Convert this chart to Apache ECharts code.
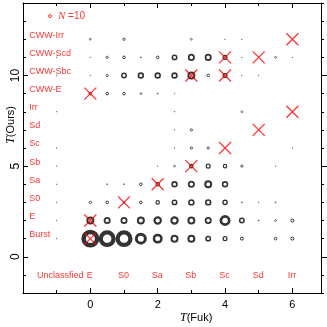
<!DOCTYPE html>
<html><head><meta charset="utf-8">
<script src="https://cdn.jsdelivr.net/npm/echarts@6/dist/echarts.min.js"></script>
<style>html,body{margin:0;padding:0;background:#fff}#c{width:327px;height:327px}</style>
</head><body><div id="c"></div>
<script>
// Fukugita T-type columns (half steps) and our T-type rows
const fukT = [-1, 0, 0.5, 1, 1.5, 2, 2.5, 3, 3.5, 4, 4.5, 5, 5.5, 6];
const oursT = [1, 2, 3, 4, 5, 6, 7, 8, 9, 10, 11, 12];
// estimated galaxy counts per cell, one array per "Ours" row, aligned with fukT
const nBurst   = [1, 202, 180, 180, 90, 62, 40, 40, 22, 16, 10, 0, 8, 10];
const nE       = [1, 40, 31, 31, 40, 45, 45, 40, 31, 75, 22, 2, 4, 10];
const nS0      = [1, 6, 8, 4, 8, 13, 22, 26, 26, 19, 2, 1, 2, 0];
const nSa      = [1, 0, 2, 2, 8, 13, 26, 31, 40, 26, 0, 0, 0, 0];
const nSb      = [1, 0, 0, 0, 0, 1, 4, 13, 16, 13, 6, 0, 1, 0];
const nSc      = [1, 0, 0, 0, 0, 0, 1, 6, 6, 0, 0, 0, 0, 1];
const nSd      = [0, 0, 0, 0, 0, 0, 1, 6, 0, 0, 0, 0, 0, 0];
const nIrr     = [1, 0, 0, 0, 0, 0, 1, 0, 0, 0, 4, 0, 0, 0];
const nCWW_E   = [0, 8, 8, 8, 4, 2, 1, 0, 0, 0, 0, 0, 0, 0];
const nCWW_Sbc = [1, 1, 6, 22, 26, 26, 26, 40, 8, 16, 1, 1, 0, 0];
const nCWW_Scd = [1, 1, 6, 8, 2, 8, 22, 31, 31, 16, 1, 0, 4, 1];
const nCWW_Irr = [0, 4, 0, 6, 0, 0, 0, 4, 0, 1, 1, 0, 0, 0];
const rows = [nBurst, nE, nS0, nSa, nSb, nSc, nSd, nIrr, nCWW_E, nCWW_Sbc, nCWW_Scd, nCWW_Irr];
// red crosses
const crossFuk  = [0, 0, 1, 2, 3, 4, 5, 6, 0, 3, 4, 4, 5, 6];
const crossOurs = [1, 2, 3, 4, 5, 6, 7, 8, 9, 10, 10, 11, 11, 12];
// class labels
const oursLabels = ['Burst', 'E', 'S0', 'Sa', 'Sb', 'Sc', 'Sd', 'Irr', 'CWW-E', 'CWW-Sbc', 'CWW-Scd', 'CWW-Irr'];
const fukLabels = ['Unclassfied', 'E', 'S0', 'Sa', 'Sb', 'Sc', 'Sd', 'Irr'];
const fukLabelT = [-1, 0, 1, 2, 3, 4, 5, 6];
const legendN = 10;
const xTicks = [0, 2, 4, 6];
const yTicks = [0, 5, 10];

const RED = '#ff0000';
function diam(n) { return 4 * Math.sqrt(n / 10); }
function circleItem(x, y, n, color) {
  const d = diam(n), bw = Math.max(0.6, 0.25 * d);
  return { value: [x, y, n], symbolSize: Math.max(d - bw, 0.3),
           itemStyle: { borderWidth: bw, borderColor: color, color: 'rgba(0,0,0,0)' } };
}
const circles = [];
rows.forEach((r, i) => r.forEach((n, j) => { if (n > 0) circles.push(circleItem(fukT[j], oursT[i], n, '#000')); }));
const crosses = crossFuk.map((x, i) => [x, crossOurs[i]]);

const chart = echarts.init(document.getElementById('c'), null, { renderer: 'canvas' });
const XMIN = -2, XMAX = 6.85, YMIN = -2, YMAX = 14;
const lineStyle = { color: '#000', width: 1 };
const baseX = { type: 'value', min: XMIN, max: XMAX, interval: 2, splitLine: { show: false },
  axisLine: { show: true, lineStyle, onZero: false }, axisTick: { show: true, inside: true, length: 5, lineStyle },
  minorTick: { show: true, splitNumber: 2, length: 3, lineStyle } };
const baseY = { type: 'value', min: YMIN, max: YMAX, interval: 1, splitLine: { show: false },
  axisLine: { show: true, lineStyle, onZero: false } };
const option = {
  animation: false,
  backgroundColor: '#fff',
  grid: { left: 23, right: 6, top: 1, bottom: 34, containLabel: false },
  xAxis: [
    Object.assign({}, baseX, { position: 'bottom',
      axisLabel: { show: true, margin: 6, fontSize: 11, color: '#000', fontFamily: 'Liberation Sans',
        formatter: v => xTicks.indexOf(v) >= 0 ? String(v) : '' } }),
    Object.assign({}, baseX, { position: 'top', axisLabel: { show: false } })
  ],
  yAxis: [
    Object.assign({}, baseY, { position: 'left', axisTick: { show: true, inside: true, length: 3, lineStyle },
      axisLabel: { show: true, rotate: 90, margin: 1, fontSize: 12, color: '#000', fontFamily: 'Liberation Sans',
        formatter: v => yTicks.indexOf(v) >= 0 ? String(v) : '' } }),
    Object.assign({}, baseY, { position: 'left', axisLine: { show: false, onZero: false },
      axisTick: { show: true, inside: true, length: 5, lineStyle, customValues: yTicks }, axisLabel: { show: false } }),
    Object.assign({}, baseY, { position: 'right', axisTick: { show: true, inside: false, length: 3, lineStyle },
      axisLabel: { show: false } }),
    Object.assign({}, baseY, { position: 'right', axisLine: { show: false, onZero: false },
      axisTick: { show: true, inside: false, length: 6, lineStyle, customValues: yTicks }, axisLabel: { show: false } })
  ],
  graphic: [
    { type: 'text', left: 5, top: 106, rotation: Math.PI / 2, z: 10,
      style: { text: '{t|T}(Ours)', fill: '#000', font: '11px "Liberation Sans"',
        rich: { t: { fontFamily: 'Liberation Serif', fontStyle: 'italic', fontSize: 12 } } } },
    { type: 'text', left: 180, top: 312, z: 10,
      style: { text: '{t|T}(Fuk)', fill: '#000', font: '11px "Liberation Sans"',
        rich: { t: { fontFamily: 'Liberation Serif', fontStyle: 'italic', fontSize: 12 } } } }
  ],
  series: [
    { type: 'scatter', symbol: 'circle', data: circles, silent: true, z: 2 },
    { type: 'scatter', symbol: 'circle', silent: true, z: 3,
      data: [Object.assign(circleItem(-1.2, 13.28, legendN, RED), {
        label: { show: true, position: 'right', distance: 6, color: RED, fontSize: 10, fontFamily: 'Liberation Sans',
          formatter: '{n|N} =' + legendN, rich: { n: { fontFamily: 'Liberation Serif', fontStyle: 'italic', fontSize: 11, color: RED } } } })] },
    { type: 'scatter', symbol: 'path://M0,0L10,10M10,0L0,10', symbolSize: 12, silent: true, z: 4,
      itemStyle: { color: 'rgba(0,0,0,0)', borderColor: RED, borderWidth: 1.3 }, data: crosses },
    { type: 'scatter', symbolSize: 1, silent: true, z: 5, itemStyle: { color: 'rgba(0,0,0,0)' },
      data: oursLabels.map((s, i) => ({ value: [-1.8, oursT[i]], name: s })),
      label: { show: true, position: [0, 0], align: 'left', verticalAlign: 'middle', offset: [0, -3.5],
        color: RED, fontSize: 9, fontFamily: 'Liberation Sans', formatter: p => p.name } },
    { type: 'scatter', symbolSize: 1, silent: true, z: 5, itemStyle: { color: 'rgba(0,0,0,0)' },
      data: fukLabels.map((s, i) => ({ value: [fukLabelT[i], -1], name: s })),
      label: { show: true, position: [0, 0], align: 'center', verticalAlign: 'middle',
        color: RED, fontSize: 9, fontFamily: 'Liberation Sans',
        formatter: p => p.name, offset: [0, 1] } }
  ]
};
// shift the long "Unclassfied" label slightly right as in the reference
option.series[4].data[0].label = { offset: [4, 1] };
chart.setOption(option);
</script></body></html>
